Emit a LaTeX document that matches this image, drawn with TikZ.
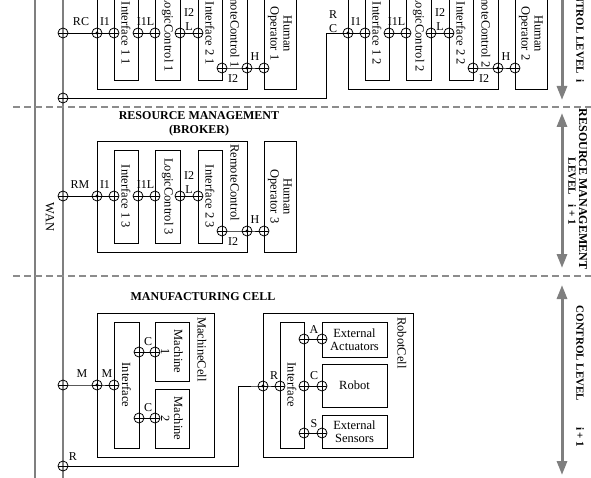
\documentclass[tikz,border=0pt]{standalone}
\usepackage{fontspec}
\setmainfont{Liberation Serif}
\usetikzlibrary{arrows.meta}
\definecolor{lgray}{HTML}{7F7F7F}
\definecolor{dgray}{HTML}{8C8C8C}
\tikzset{
  box/.style={draw, line width=0.8pt, inner sep=0pt, outer sep=0pt},
  port/.style={draw, circle, line width=0.8pt, minimum size=10pt, inner sep=0pt, outer sep=0pt,
    path picture={\draw[line width=0.8pt] (path picture bounding box.west) -- (path picture bounding box.east);}},
  dotport/.style={draw, circle, line width=0.8pt, minimum size=10pt, inner sep=0pt, outer sep=0pt,
    path picture={\draw[line width=0.8pt] (path picture bounding box.west) -- (path picture bounding box.east);
      \fill (path picture bounding box.center) circle (1.6pt);}},
  conn/.style={line width=0.8pt},
  vtext/.style={rotate=-90, font=\fontsize{12.5}{13}\selectfont, inner sep=0pt, align=center},
  htext/.style={font=\fontsize{12.5}{13}\selectfont, inner sep=0pt, align=center},
  lbl/.style={font=\fontsize{12}{14}\selectfont, inner sep=0pt, align=center},
  title/.style={font=\bfseries\fontsize{12}{14}\selectfont, inner sep=0pt, align=center},
  rtext/.style={rotate=-90, font=\bfseries\fontsize{11}{12}\selectfont, inner sep=0pt},
  gline/.style={draw=lgray, line width=1.5pt},
  dline/.style={draw=dgray, line width=2pt, dash pattern=on 7pt off 4pt},
  garrow/.style={draw=lgray, line width=3pt},
}
\newcommand\ctrlrow[5]{%
\begin{scope}[shift={(#2,#3)}]
  \node[box, minimum width=150pt, minimum height=111pt] (rc#1) at (172,196.5) {};
  \node[box, minimum width=24pt, minimum height=93pt] (ia#1) at (126,196.5) {};
  \node[box, minimum width=25pt, minimum height=93pt] (lc#1) at (167.5,196.5) {};
  \node[box, minimum width=24pt, minimum height=93pt] (ib#1) at (210,196.5) {};
  \node[box, minimum width=32pt, minimum height=111pt] (ho#1) at (280,196.5) {};
  \node[vtext] at (ia#1) {Interface 1 #4};
  \node[vtext] at (lc#1) {LogicControl #4};
  \node[vtext] at (ib#1) {Interface 2 #4};
  \node[vtext] at (ho#1) {Human\\Operator #4};
  \node[vtext, anchor=west] (rct#1) at (235,144) {#5};
  \node[dotport] (pin#1) at (97,196) {};
  \node[port] (pa#1) at (114,196) {};
  \node[port] (pb#1) at (138,196) {};
  \node[port] (pc#1) at (155,196) {};
  \node[port] (pd#1) at (180,196) {};
  \node[port] (pe#1) at (198,196) {};
  \node[port] (pf#1) at (222,231) {};
  \node[dotport] (pg#1) at (247,231) {};
  \node[port] (ph#1) at (264,231) {};
  \draw[conn] (pin#1.center) -- (pa#1.center);
  \draw[conn] (pb#1.center) -- (pc#1.center);
  \draw[conn] (pd#1.center) -- (pe#1.center);
  \draw[conn] (pf#1.center) -- (pg#1.center) -- (ph#1.center);
  \node[lbl] at (105,185) {I1};
  \node[lbl] at (145.5,185) {I1L};
  \node[lbl] at (189,183) {I2\\L};
  \node[lbl] at (255,220) {H};
  \node[lbl] at (233,242) {I2};
\end{scope}}
\begin{document}
\begin{tikzpicture}[x=1pt,y=-1pt]
\useasboundingbox (0,0) rectangle (591,478);
\clip (0,0) rectangle (591,478);

% WAN and bus lines
\coordinate (wanT) at (35,-5);
\coordinate (wanB) at (35,478);
\coordinate (busT) at (63,-5);
\coordinate (busB) at (63,478);
\draw[gline] (wanT) -- (wanB);
\draw[gline] (busT) -- (busB);
\node[vtext] (wan) at (50,217) {WAN};

% level separators
\coordinate (d1L) at (13,107); \coordinate (d1R) at (591,107);
\coordinate (d2L) at (13,276); \coordinate (d2R) at (591,276);
\draw[dline] (d1L) -- (d1R);
\draw[dline] (d2L) -- (d2R);

% control level i (two rows, cut at top)
\ctrlrow{A}{0}{-163}{1}{RemoteControl 1}
\ctrlrow{B}{251}{-163}{2}{RemoteControl 2}
% resource management
\ctrlrow{M}{0}{0}{3}{RemoteControl}
\node[title] (rmt) at (199,124) {RESOURCE MANAGEMENT\\(BROKER)};

% bus connections of upper rows
\node[port] (busA) at (63,33) {};
\draw[conn] (busA.center) -- (pinA.center);
\node[lbl] at (81,22) {RC};
\node[port] (busB2) at (63,98) {};
\coordinate (kB) at (326,98);
\draw[conn] (busB2.center) -- (kB) |- (pinB.center);
\node[lbl] at (333,22) {R\\C};
\node[port] (busM) at (63,196) {};
\draw[conn] (busM.center) -- (pinM.center);
\node[lbl] at (80,185) {RM};

% manufacturing cell
\node[title] (mft) at (203,297) {MANUFACTURING CELL};
\node[box, minimum width=117pt, minimum height=144pt] (mc) at (155.5,385) {};
\node[box, minimum width=25pt, minimum height=126pt] (mif) at (126.5,385) {};
\node[box, minimum width=34pt, minimum height=59pt] (m1) at (172,351.5) {};
\node[box, minimum width=34pt, minimum height=59pt] (m2) at (172,418.5) {};
\node[vtext] at (mif) {Interface};
\node[vtext] at (m1) {Machine\\1};
\node[vtext] at (m2) {Machine\\2};
\node[vtext, anchor=west] at (202,317) {MachineCell};
\node[port] (busMC) at (63,385) {};
\node[dotport] (mdot) at (97,385) {};
\node[port] (mp) at (114,385) {};
\draw[conn] (busMC.center) -- (mdot.center) -- (mp.center);
\node[lbl] at (82,374) {M};
\node[lbl] at (107,374) {M};
\node[port] (mc1a) at (139,352) {};
\node[port] (mc1b) at (155,352) {};
\node[port] (mc2a) at (139,418) {};
\node[port] (mc2b) at (155,418) {};
\draw[conn] (mc1a.center) -- (mc1b.center);
\draw[conn] (mc2a.center) -- (mc2b.center);
\node[lbl] at (148,342) {C};
\node[lbl] at (148,408) {C};

% robot cell
\node[box, minimum width=150pt, minimum height=144pt] (rcell) at (338,385) {};
\node[box, minimum width=24pt, minimum height=126pt] (rif) at (292,385) {};
\node[box, minimum width=65pt, minimum height=35pt] (ea) at (354.5,339.5) {};
\node[box, minimum width=65pt, minimum height=43pt] (rob) at (354.5,385.5) {};
\node[box, minimum width=65pt, minimum height=33pt] (es) at (354.5,431.5) {};
\node[vtext] at (rif) {Interface};
\node[htext] at (ea) {External\\Actuators};
\node[htext] at (rob) {Robot};
\node[htext] at (es) {External\\Sensors};
\node[vtext, anchor=west] at (402,317) {RobotCell};
\node[port] (busR) at (63,466) {};
\node[lbl] at (73,457) {R};
\coordinate (kR) at (238,466);
\node[dotport] (rdot) at (263,386) {};
\node[port] (rp) at (280,386) {};
\draw[conn] (busR.center) -- (kR) |- (rdot.center) -- (rp.center);
\node[lbl] at (274,376) {R};
\node[port] (ra1) at (304,339) {};
\node[port] (ra2) at (322,339) {};
\node[port] (rc1) at (304,386) {};
\node[port] (rc2) at (322,386) {};
\node[port] (rs1) at (304,433) {};
\node[port] (rs2) at (322,433) {};
\draw[conn] (ra1.center) -- (ra2.center);
\draw[conn] (rc1.center) -- (rc2.center);
\draw[conn] (rs1.center) -- (rs2.center);
\node[lbl] at (314,330) {A};
\node[lbl] at (314,376) {C};
\node[lbl] at (314,424) {S};

% level arrows and labels
\coordinate (a1T) at (562,-30); \coordinate (a1B) at (562,100);
\coordinate (a2T) at (562,113); \coordinate (a2B) at (562,268);
\coordinate (a3T) at (562,285); \coordinate (a3B) at (562,475);
\draw[garrow, -{Triangle[length=14pt,width=10pt]}] (a1T) -- (a1B);
\draw[garrow, {Triangle[length=14pt,width=10pt]}-{Triangle[length=14pt,width=10pt]}] (a2T) -- (a2B);
\draw[garrow, {Triangle[length=14pt,width=10pt]}-{Triangle[length=14pt,width=10pt]}] (a3T) -- (a3B);
\node[rtext, anchor=east] at (580,83) {CONTROL LEVEL\hspace{6pt}i};
\node[rtext, font=\bfseries\fontsize{12}{12}\selectfont] at (583,189) {RESOURCE MANAGEMENT};
\node[rtext] at (572,191.5) {LEVEL\hspace{10pt}i + 1};
\node[rtext] at (580,376.5) {CONTROL LEVEL\hspace{26pt}i + 1};
\end{tikzpicture}
\end{document}
